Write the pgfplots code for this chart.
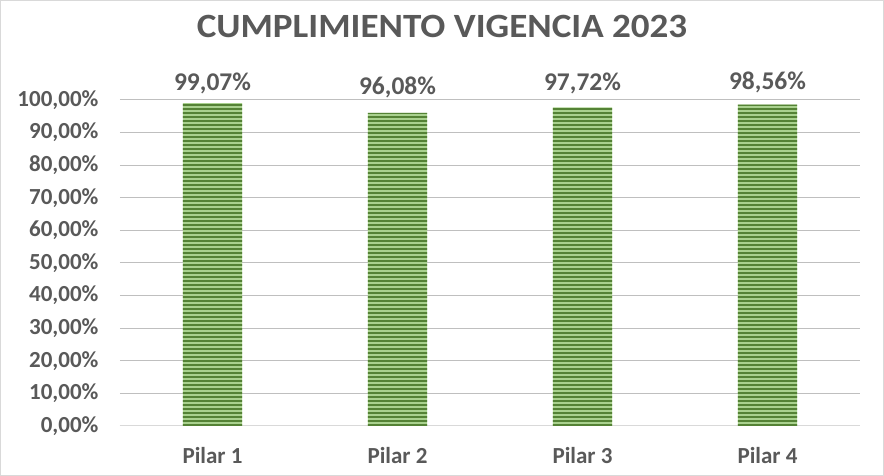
\documentclass[border=0pt]{standalone}
\usepackage{pgfplots}
\pgfplotsset{compat=1.18}
\usepackage{fontspec}
\setmainfont{Carlito}
\usetikzlibrary{patterns}
\definecolor{txt}{HTML}{595959}
\definecolor{grid}{HTML}{D9D9D9}
\definecolor{darkg}{HTML}{548235}
\definecolor{lightg}{HTML}{A9D18E}
\pgfdeclarepatternformonly{hstripes}{\pgfqpoint{0pt}{0pt}}{\pgfqpoint{950pt}{3.6pt}}{\pgfqpoint{950pt}{3.6pt}}{%
  \pgfpathrectangle{\pgfqpoint{0pt}{0pt}}{\pgfqpoint{950pt}{2pt}}\pgfusepath{fill}}
\begin{document}
\begin{tikzpicture}
\path[use as bounding box] (-120pt,-50pt) rectangle (764pt,426pt);
\draw[grid, line width=0.8pt] (-119.6pt,-49.6pt) rectangle (763.6pt,425.6pt);
\begin{axis}[
  at={(0,0)}, anchor=south west,
  scale only axis,
  width=740pt, height=326pt,
  ymin=0, ymax=100,
  xmin=-0.5, xmax=3.5,
  ytick={0,10,...,100},
  xtick={0,1,2,3},
  xticklabels={Pilar 1,Pilar 2,Pilar 3,Pilar 4},
  grid=none,
  xmajorgrids=false,
  ymajorgrids=true,
  grid style={grid, line width=1pt},
  axis x line*=bottom,
  axis y line*=left,
  xtick pos=bottom,
  ytick pos=left,
  x axis line style={grid, line width=1pt, -},
  y axis line style={draw=none},
  major tick length=0pt,
  tick style={draw=none},
  /pgf/number format/assume math mode=true,
  yticklabel={\pgfmathprintnumber[fixed,fixed zerofill,precision=2,use comma]{\tick}\%},
  yticklabel style={font=\fontsize{23}{27}\selectfont\bfseries, text=txt, xshift=-18pt},
  xticklabel style={font=\fontsize{23}{27}\selectfont\bfseries, text=txt, yshift=-18pt},
  clip=false,
]
\addplot[ybar, bar shift=0pt, bar width=0.32, draw=none, fill=lightg, postaction={pattern=hstripes, pattern color=darkg}]
  coordinates {(0,99.07) (1,96.08) (2,97.72) (3,98.56)};
\addplot[only marks, mark=none, point meta=explicit,
  nodes near coords={\pgfmathprintnumber[fixed,fixed zerofill,precision=2,use comma]{\pgfplotspointmeta}\%},
  nodes near coords style={font=\fontsize{25.5}{29}\selectfont\bfseries, text=txt, anchor=center}]
  coordinates {(0,105.2) [99.07] (1,104.0) [96.08] (2,105.2) [97.72] (3,105.4) [98.56]};
\end{axis}
\node[font=\fontsize{34}{38}\selectfont\bfseries, text=txt, xscale=1.09, transform shape] at (322pt,400pt) {CUMPLIMIENTO VIGENCIA 2023};
\end{tikzpicture}
\end{document}
